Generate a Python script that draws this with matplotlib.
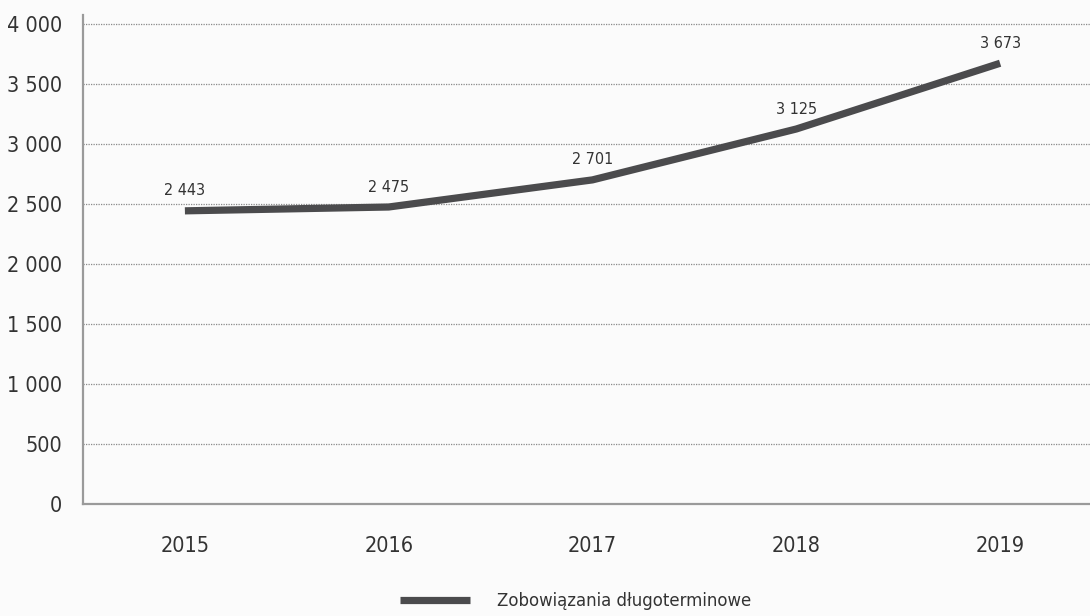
import matplotlib
matplotlib.use("Agg")
import matplotlib.pyplot as plt

years = ["2015", "2016", "2017", "2018", "2019"]
values = [2443, 2475, 2701, 3125, 3673]
value_labels = ["2 443", "2 475", "2 701", "3 125", "3 673"]
y_ticks = [0, 500, 1000, 1500, 2000, 2500, 3000, 3500, 4000]
y_tick_labels = ["0", "500", "1 000", "1 500", "2 000", "2 500", "3 000", "3 500", "4 000"]
series_name = "Zobowiązania długoterminowe"

plt.rcParams["font.family"] = ["DejaVu Sans"]
plt.rcParams["font.stretch"] = "condensed"

bg = "#fbfbfb"
fig = plt.figure(figsize=(10.90, 6.16), dpi=100, facecolor=bg)
W, H = 1090, 616
left, right, top, bottom = 83, 1102, 15, 504
ax = fig.add_axes([left / W, 1 - bottom / H, (right - left) / W, (bottom - top) / H])
ax.set_facecolor(bg)

x = list(range(len(years)))
line, = ax.plot(x, values, color="#4b4b4d", lw=5.2, solid_capstyle="butt", zorder=3, label=series_name)
for xi, v, lab in zip(x, values, value_labels):
    ax.annotate(lab, (xi, v), xytext=(0, 9), textcoords="offset points", ha="center", va="bottom",
                fontsize=11.5, color="#333333")

ax.set_xlim(-0.5, 4.5)
ax.set_ylim(0, 4000 * (504 - 15) / (504 - 24))
ax.set_xticks(x)
ax.set_xticklabels(years, fontsize=15.5, color="#333333")
ax.set_yticks(y_ticks)
ax.set_yticklabels(y_tick_labels, fontsize=15.5, color="#333333")
ax.tick_params(length=0, pad=15)
ax.tick_params(axis="x", pad=23)
ax.grid(axis="y", linestyle=(0, (1, 1)), color="#8a8a8a", lw=0.9)
ax.set_axisbelow(True)
for s in ["top", "right"]:
    ax.spines[s].set_visible(False)
ax.spines["left"].set_color("#9a9a9a")
ax.spines["left"].set_linewidth(1.6)
ax.spines["bottom"].set_color("#9a9a9a")
ax.spines["bottom"].set_linewidth(1.6)

fig.legend(handles=[line], labels=[series_name], loc="center", bbox_to_anchor=(576 / W, 1 - 601 / H),
           frameon=False, fontsize=13.2, handlelength=3.8, handletextpad=1.5, labelcolor="#333333")

fig.savefig("out.png", dpi=100, facecolor=bg)
